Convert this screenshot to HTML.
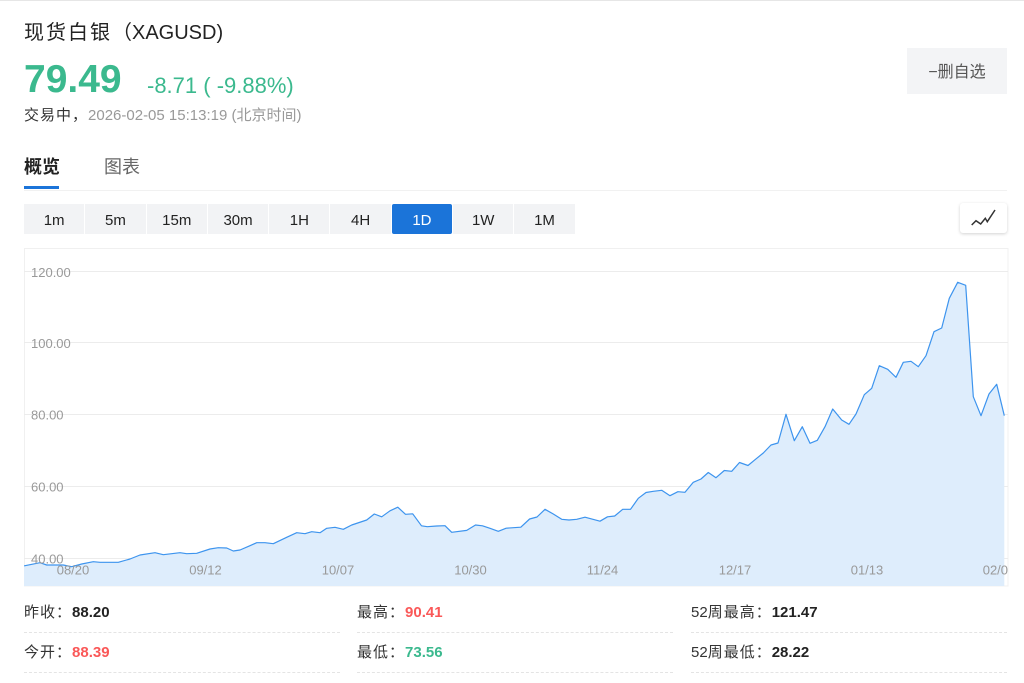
<!DOCTYPE html>
<html>
<head>
<meta charset="utf-8">
<style>
  html,body{margin:0;padding:0;}
  body{width:1024px;height:683px;overflow:hidden;background:#fff;position:relative;
       font-family:"Liberation Sans","Noto Sans CJK SC",sans-serif;color:#222;}
  .abs{position:absolute;white-space:nowrap;}
  .topline{position:absolute;left:0;top:0;width:1024px;height:1px;background:#e6e6e6;}
  .btns{position:absolute;left:24px;top:204px;height:30px;display:flex;}
  .btns div{width:60.3px;height:30px;margin-right:1px;background:#f2f3f5;text-align:center;
            line-height:33px;font-size:15px;color:#222;overflow:hidden;}
  .btns div.on{background:#1b74d9;color:#fff;border-radius:2px;}
  .row{position:absolute;height:20px;line-height:20px;font-size:15px;color:#333;}
  .row b{color:#222;}
  .dash{position:absolute;height:0;border-top:1px dashed #e4e4e4;}
  .cj{letter-spacing:1px;}
</style>
</head>
<body>
<div class="topline"></div>

<!-- Title -->
<div class="abs" style="left:24px;top:23px;font-size:20px;line-height:20px;color:#222;"><span style="letter-spacing:2px">现货白银</span>（XAGUSD)</div>

<!-- Price -->
<div class="abs" style="left:24px;top:60px;font-size:39px;line-height:39px;font-weight:bold;color:#3bb98e;">79.49</div>
<div class="abs" style="left:147px;top:75px;font-size:22px;line-height:22px;color:#3bb98e;">-8.71 ( -9.88%)</div>

<!-- timestamp -->
<div class="abs" style="left:24px;top:108px;font-size:15px;line-height:15px;color:#999;"><span style="color:#333;letter-spacing:1px">交易中，</span>2026-02-05 15:13:19 (北京时间)</div>

<!-- delete button -->
<div class="abs" style="left:907px;top:48px;width:100px;height:46px;background:#f3f4f6;text-align:center;line-height:50px;font-size:16px;color:#555;overflow:hidden;">−删自选</div>

<!-- tabs -->
<div class="abs" style="left:24px;top:158px;font-size:18px;line-height:18px;font-weight:bold;color:#222;">概览</div>
<div class="abs" style="left:104px;top:158px;font-size:18px;line-height:18px;color:#666;">图表</div>
<div class="abs" style="left:24px;top:190px;width:983px;height:1px;background:#f1f1f1;"></div>
<div class="abs" style="left:24px;top:186px;width:35px;height:3px;background:#1b74d9;"></div>

<!-- period buttons -->
<div class="btns">
  <div>1m</div><div>5m</div><div>15m</div><div>30m</div><div>1H</div><div>4H</div><div class="on">1D</div><div>1W</div><div>1M</div>
</div>

<!-- chart type button -->
<div class="abs" style="left:960px;top:203px;width:47px;height:30px;background:#fff;border-radius:3px;box-shadow:0 1px 3px rgba(0,0,0,0.18);"></div>

<svg class="abs" style="left:0;top:0;" width="1024" height="683" viewBox="0 0 1024 683">
  <defs>
    <clipPath id="c"><rect x="24" y="248" width="984" height="339"/></clipPath>
  </defs>
  <polyline points="971.7,225 976,220.7 980.7,224 985.3,218.3 987.3,221.7 995,210" fill="none" stroke="#333" stroke-width="1.5" stroke-linejoin="miter"/>
  <!-- chart border -->
  <rect x="24.5" y="248.5" width="983.5" height="337.5" fill="none" stroke="#f0f0f0" stroke-width="1"/>
  <g clip-path="url(#c)">
    <g stroke="#ececec" stroke-width="1">
      <line x1="24" y1="271.5" x2="1008" y2="271.5"/>
      <line x1="24" y1="342.5" x2="1008" y2="342.5"/>
      <line x1="24" y1="414.5" x2="1008" y2="414.5"/>
      <line x1="24" y1="486.5" x2="1008" y2="486.5"/>
      <line x1="24" y1="558.5" x2="1008" y2="558.5"/>
    </g>
    <polygon fill="#deedfc" points="24,586 24,565.8 25,565.7 40,562.7 46.7,565 63.3,565 71.7,566.7 81.7,564 93.3,561.7 100,562.3 118.3,562.3 130,559 140,555 155,552.7 163.3,554.7 180,552.7 186.7,553.7 196.7,553.3 210,549 218.3,547.7 226.7,548 233.3,551 240,550 250,545.7 256.7,542.7 265,542.7 273.3,543.7 286.7,537.3 296.7,532.7 305,533.7 311.7,531.7 320,532.7 326.7,528.3 335,527.3 343.3,529.3 351.7,525 366.7,520 374.3,514 381.7,516.8 390,510.8 397.8,507.2 405.5,514.3 412.7,513.8 421.5,525.8 427.3,526.7 436.7,526 445,525.7 451.7,532.3 466.7,530.4 475.5,525 482.5,525.8 490,528.3 498.3,531.3 506.2,528.2 520.8,527.2 529.6,519 537,517 545,509.3 553.3,514 561.7,519.3 569,520 576.7,519.3 585,517.2 600,521.2 607.5,516.8 614.7,516 622.7,509.3 630.5,509.3 638.3,498.3 646,492.5 653.3,491.3 661.7,490.3 670,495.7 677.9,491.7 685,492.3 693.3,482.3 701,479 708.3,472.5 716,477.7 724.3,470.5 731.7,471.3 739.5,462.5 748,465.5 755.5,459.3 763.3,453 771,445 778,443 786,414.3 794.3,440.7 802.3,426.7 810,443.3 817.3,440.3 825,426.7 832.7,409 841.7,420 849,424.3 856,414 864.3,394.7 871.7,388.3 879.3,365.7 887.7,369.3 896,377.3 903.3,362.3 911,361.3 918.3,366.7 926,355.7 934,331.7 941.7,328 949.3,298.3 957.7,282.3 965.7,285.3 973.3,396.7 981,415.7 989,394 996.7,384.3 1004.3,415.7 1004.3,586"/>
    <polyline fill="none" stroke="#3d94ee" stroke-width="1.2" stroke-linejoin="round" points="24,565.8 25,565.7 40,562.7 46.7,565 63.3,565 71.7,566.7 81.7,564 93.3,561.7 100,562.3 118.3,562.3 130,559 140,555 155,552.7 163.3,554.7 180,552.7 186.7,553.7 196.7,553.3 210,549 218.3,547.7 226.7,548 233.3,551 240,550 250,545.7 256.7,542.7 265,542.7 273.3,543.7 286.7,537.3 296.7,532.7 305,533.7 311.7,531.7 320,532.7 326.7,528.3 335,527.3 343.3,529.3 351.7,525 366.7,520 374.3,514 381.7,516.8 390,510.8 397.8,507.2 405.5,514.3 412.7,513.8 421.5,525.8 427.3,526.7 436.7,526 445,525.7 451.7,532.3 466.7,530.4 475.5,525 482.5,525.8 490,528.3 498.3,531.3 506.2,528.2 520.8,527.2 529.6,519 537,517 545,509.3 553.3,514 561.7,519.3 569,520 576.7,519.3 585,517.2 600,521.2 607.5,516.8 614.7,516 622.7,509.3 630.5,509.3 638.3,498.3 646,492.5 653.3,491.3 661.7,490.3 670,495.7 677.9,491.7 685,492.3 693.3,482.3 701,479 708.3,472.5 716,477.7 724.3,470.5 731.7,471.3 739.5,462.5 748,465.5 755.5,459.3 763.3,453 771,445 778,443 786,414.3 794.3,440.7 802.3,426.7 810,443.3 817.3,440.3 825,426.7 832.7,409 841.7,420 849,424.3 856,414 864.3,394.7 871.7,388.3 879.3,365.7 887.7,369.3 896,377.3 903.3,362.3 911,361.3 918.3,366.7 926,355.7 934,331.7 941.7,328 949.3,298.3 957.7,282.3 965.7,285.3 973.3,396.7 981,415.7 989,394 996.7,384.3 1004.3,415.7"/>
    <g font-family="Liberation Sans, sans-serif" font-size="13" fill="#999">
      <text x="31" y="277">120.00</text>
      <text x="31" y="348">100.00</text>
      <text x="31" y="419.5">80.00</text>
      <text x="31" y="491.5">60.00</text>
      <text x="31" y="563.5">40.00</text>
    </g>
    <g font-family="Liberation Sans, sans-serif" font-size="13" fill="#999" text-anchor="middle">
      <text x="73" y="574.5">08/20</text>
      <text x="205.5" y="574.5">09/12</text>
      <text x="338" y="574.5">10/07</text>
      <text x="470.5" y="574.5">10/30</text>
      <text x="602.5" y="574.5">11/24</text>
      <text x="735" y="574.5">12/17</text>
      <text x="867" y="574.5">01/13</text>
      <text x="999" y="574.5">02/05</text>
    </g>
  </g>
</svg>

<!-- stats -->
<div class="row" style="left:24px;top:603px;"><span class="cj">昨收：</span><b>88.20</b></div>
<div class="row" style="left:357px;top:603px;"><span class="cj">最高：</span><b style="color:#fa5858;">90.41</b></div>
<div class="row" style="left:691px;top:603px;">52<span class="cj">周最高：</span><b>121.47</b></div>
<div class="dash" style="left:24px;top:632px;width:316px;"></div>
<div class="dash" style="left:357px;top:632px;width:316px;"></div>
<div class="dash" style="left:691px;top:632px;width:316px;"></div>

<div class="row" style="left:24px;top:643px;"><span class="cj">今开：</span><b style="color:#fa5858;">88.39</b></div>
<div class="row" style="left:357px;top:643px;"><span class="cj">最低：</span><b style="color:#3bb98e;">73.56</b></div>
<div class="row" style="left:691px;top:643px;">52<span class="cj">周最低：</span><b>28.22</b></div>
<div class="dash" style="left:24px;top:672px;width:316px;"></div>
<div class="dash" style="left:357px;top:672px;width:316px;"></div>
<div class="dash" style="left:691px;top:672px;width:316px;"></div>
</body>
</html>
